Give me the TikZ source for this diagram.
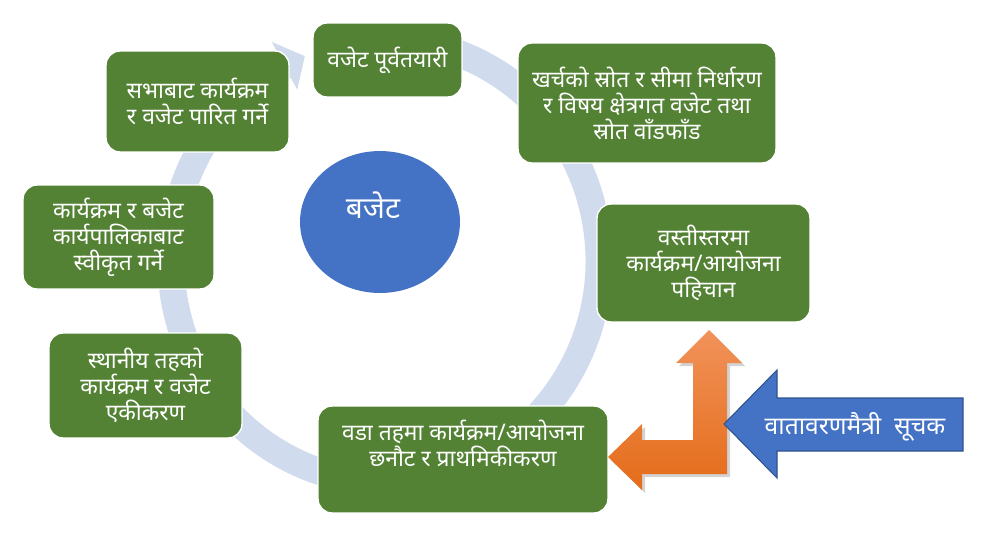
\documentclass[tikz,border=0pt]{standalone}
\usepackage{fontspec}
\newfontfamily\devfont[Script=Devanagari]{Noto Sans}
\usetikzlibrary{shapes.geometric,shadows}
\definecolor{stepgreen}{RGB}{84,130,53}
\definecolor{budgetblue}{RGB}{68,114,196}
\definecolor{ringblue}{RGB}{208,219,238}
\definecolor{arrowedge}{RGB}{47,82,143}
\definecolor{orangetop}{RGB}{241,146,90}
\definecolor{orangebot}{RGB}{228,108,25}

\begin{document}
\begin{tikzpicture}[x=0.02cm, y=0.02cm]
\tikzstyle{every node}+=[inner sep=0pt, font=\devfont\fontsize{13}{14.8}\selectfont]
\tikzstyle{stepbox}=[fill=stepgreen, draw=white, line width=0.8pt, rounded corners=0.28cm, text=white, align=center]
\useasboundingbox (0,0) rectangle (983,-541);
\draw [ringblue, line width=0.54cm] (385,-261) ++(100:214 and 221) arc [start angle=100, end angle=-242, x radius=214, y radius=221];
\fill [ringblue] (385,-261) +(118:241 and 248) -- +(112:214 and 221) -- +(118:187 and 194) -- cycle;
\node [stepbox, minimum width=2.98cm, minimum height=1.48cm] (prep) at (387.5,-60) {वजेट पूर्वतयारी};
\node [stepbox, minimum width=3.66cm, minimum height=2.02cm] (sabha) at (197.5,-101.5) {सभाबाट कार्यक्रम\\र वजेट पारित गर्ने};
\node [stepbox, minimum width=3.82cm, minimum height=2.08cm] (swikrit) at (118.5,-237) {कार्यक्रम र बजेट\\कार्यपालिकाबाट\\स्वीकृत गर्ने};
\node [stepbox, minimum width=5.16cm, minimum height=2.4cm] (srot) at (647,-103) {खर्चको स्रोत र सीमा निर्धारण\\र विषय क्षेत्रगत वजेट तथा\\स्रोत वाँडफाँड};
\node [stepbox, minimum width=4.26cm, minimum height=2.36cm] (basti) at (703.5,-263) {वस्तीस्तरमा\\कार्यक्रम/आयोजना\\पहिचान};
\node [stepbox, minimum width=3.86cm, minimum height=2.1cm] (ekikaran) at (145.5,-385.5) {स्थानीय तहको\\कार्यक्रम र वजेट\\एकीकरण};
\node [stepbox, minimum width=5.8cm, minimum height=2.14cm] (wada) at (463,-459.5) {};
\node [text=white, align=center] (wadatxt) at (463,-443) {वडा तहमा कार्यक्रम/आयोजना\\छनौट र प्राथमिकीकरण};
\node [ellipse, fill=budgetblue, minimum width=3.2cm, minimum height=2.84cm] (budget) at (380,-222) {};
\node [text=white, font=\devfont\bfseries\fontsize{17}{19}\selectfont] (budgettxt) at (373,-205) {बजेट};
\path [top color=orangetop, bottom color=orangebot, drop shadow={opacity=0.35, shadow xshift=0.06cm, shadow yshift=-0.06cm}] (709,-330) -- (742,-363) -- (727,-363) -- (727,-474) -- (642,-474) -- (642,-490) -- (608,-457) -- (642,-424) -- (642,-440) -- (693,-440) -- (693,-363) -- (676,-363) -- cycle;
\filldraw [fill=budgetblue, draw=arrowedge, line width=0.6pt] (724,-424) -- (777,-370) -- (777,-398) -- (963,-398) -- (963,-451) -- (777,-451) -- (777,-478) -- cycle;
\node [text=white, font=\devfont\fontsize{14}{16}\selectfont] (suchak) at (855,-427) {वातावरणमैत्री\ \ सूचक};
\end{tikzpicture}
\end{document}
